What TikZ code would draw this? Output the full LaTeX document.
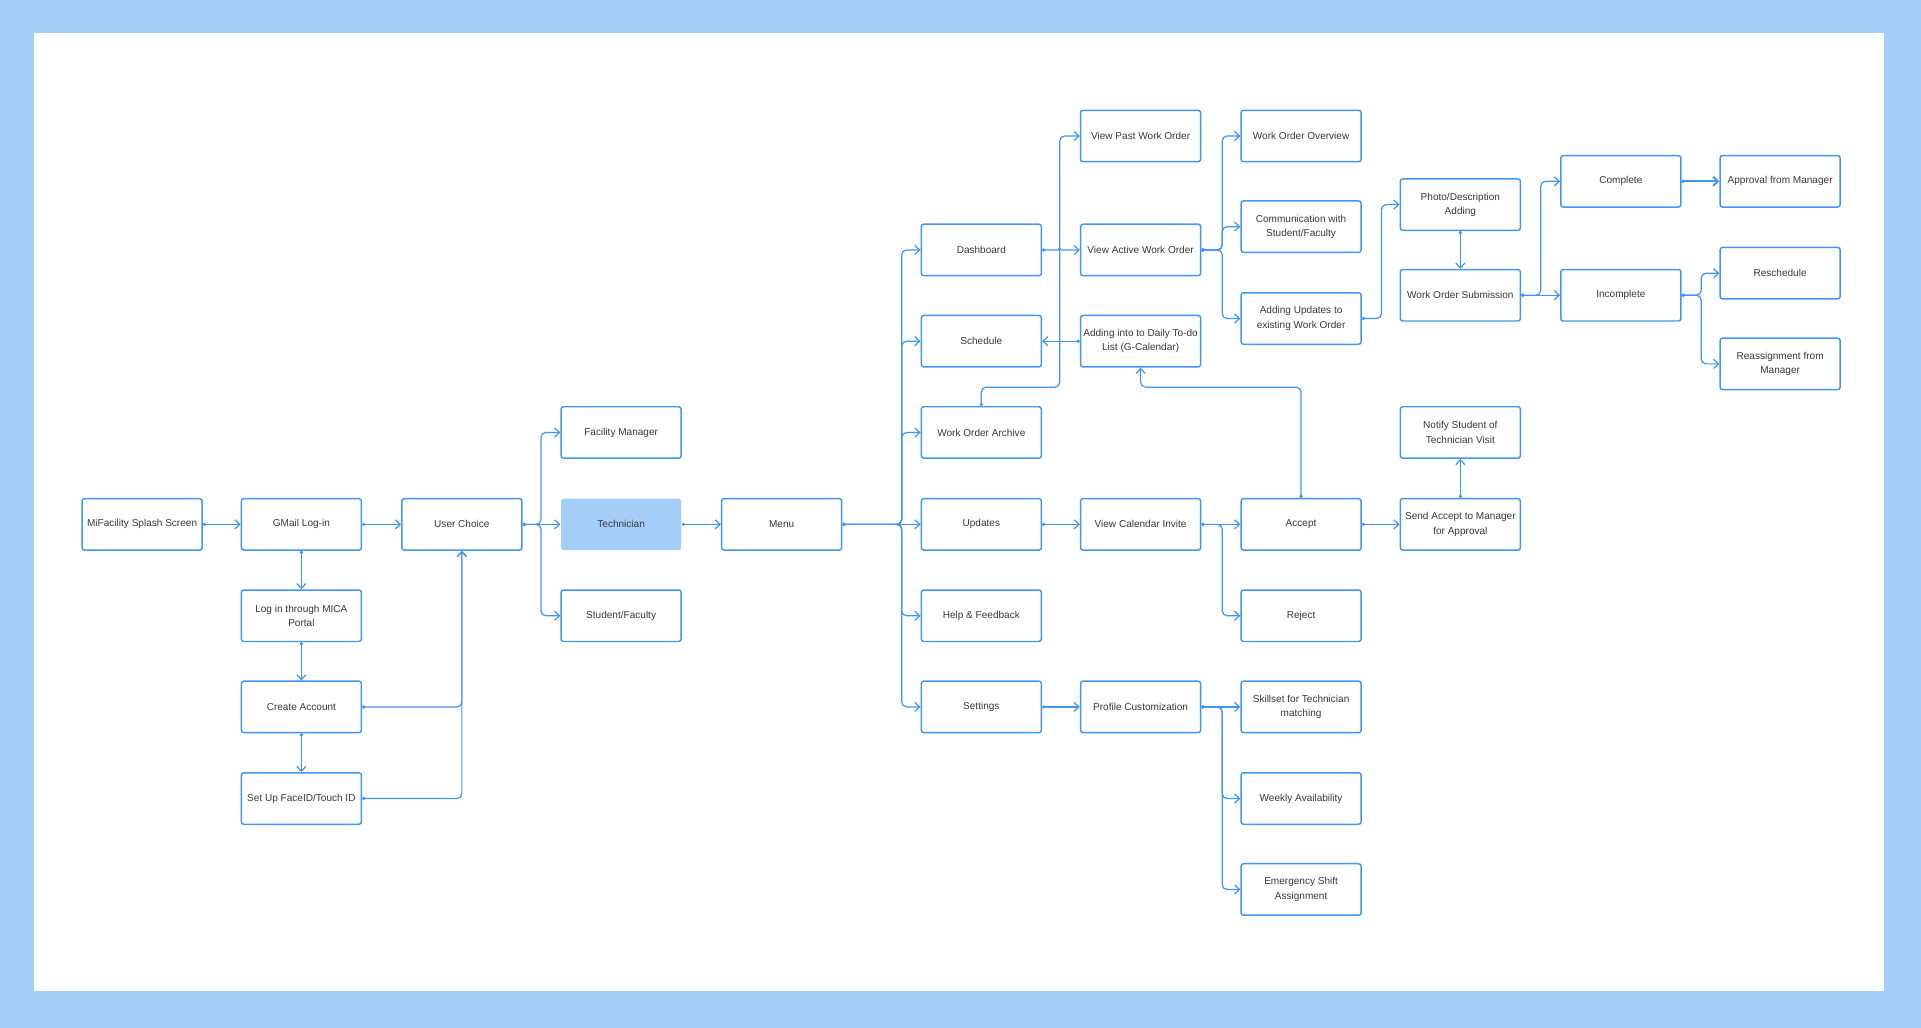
\documentclass[tikz,border=0pt]{standalone}
\usepackage{fontspec}
\setmainfont{Liberation Sans}
\usetikzlibrary{arrows.meta}
\definecolor{bgblue}{RGB}{164,205,248}
\definecolor{lineblue}{RGB}{66,150,243}
\definecolor{txtgray}{RGB}{55,55,62}
\begin{document}
\begin{tikzpicture}[x=1pt,y=-1pt,
  box/.style={draw=lineblue, line width=1.2pt, rounded corners=2pt, minimum width=98pt, minimum height=42pt, inner sep=1pt, align=center, text=txtgray, font=\fontsize{8.2}{11.7}\selectfont},
  techbox/.style={box, draw=none, fill=bgblue},
  conn/.style={draw=lineblue, line width=1pt, rounded corners=4pt, {Circle[length=2.6pt]}-{Straight Barb[length=4pt,width=7.5pt]}},
  thickconn/.style={conn, line width=1.6pt}
]
\useasboundingbox (0,0) rectangle (1568,839);
\fill[bgblue] (0,0) rectangle (1568,839);
\fill[white] (27.8,26.9) rectangle (1538,809);

% column 1-2
\node[box] (splash) at (116,428) {MiFacility Splash Screen};
\node[box] (gmail) at (246,428) {GMail Log-in};
\node[box] (mica) at (246,502.6) {Log in through MICA\\Portal};
\node[box] (create) at (246,577) {Create Account};
\node[box] (faceid) at (246,651.8) {Set Up FaceID/Touch ID};
% column 3-5
\node[box] (uchoice) at (377,428) {User Choice};
\node[box] (fm) at (507,353) {Facility Manager};
\node[techbox] (tech) at (507,428) {Technician};
\node[box] (sf) at (507,502.6) {Student/Faculty};
\node[box] (menu) at (638,428) {Menu};
% column 6
\node[box] (dash) at (801,204) {Dashboard};
\node[box] (sched) at (801,278.5) {Schedule};
\node[box] (archive) at (801,353) {Work Order Archive};
\node[box] (updates) at (801,428) {Updates};
\node[box] (help) at (801,502.6) {Help \& Feedback};
\node[box] (settings) at (801,577) {Settings};
% column 7
\node[box] (vpast) at (931,111) {View Past Work Order};
\node[box] (vactive) at (931,204) {View Active Work Order};
\node[box] (todo) at (931,278.5) {Adding into to Daily To-do\\List (G-Calendar)};
\node[box] (vcal) at (931,428) {View Calendar Invite};
\node[box] (profile) at (931,577) {Profile Customization};
% column 8
\node[box] (overview) at (1062,111) {Work Order Overview};
\node[box] (comm) at (1062,185) {Communication with\\Student/Faculty};
\node[box] (addupd) at (1062,260) {Adding Updates to\\existing Work Order};
\node[box] (accept) at (1062,428) {Accept};
\node[box] (reject) at (1062,502.6) {Reject};
\node[box] (skill) at (1062,577) {Skillset for Technician\\matching};
\node[box] (weekly) at (1062,651.8) {Weekly Availability};
\node[box] (emerg) at (1062,726) {Emergency Shift\\Assignment};
% column 9
\node[box] (photo) at (1192,167) {Photo/Description\\Adding};
\node[box] (submit) at (1192,241) {Work Order Submission};
\node[box] (notify) at (1192,353) {Notify Student of\\Technician Visit};
\node[box] (sendacc) at (1192,428) {Send Accept to Manager\\for Approval};
% column 10-11
\node[box] (complete) at (1323,148) {Complete};
\node[box] (incomplete) at (1323,241) {Incomplete};
\node[box] (approval) at (1453,148) {Approval from Manager};
\node[box] (resched) at (1453,223) {Reschedule};
\node[box] (reassign) at (1453,297) {Reassignment from\\Manager};

% connectors
\draw[conn] (splash.east) -- (gmail.west);
\draw[conn] (gmail.east) -- (uchoice.west);
\draw[conn] (gmail.south) -- (mica.north);
\draw[conn] (mica.south) -- (create.north);
\draw[conn] (create.south) -- (faceid.north);
\draw[conn] (create.east) -| (uchoice.south);
\draw[conn] (faceid.east) -| (uchoice.south);

\draw[conn] (uchoice.east) -- ++(15,0) |- (fm.west);
\draw[conn] (uchoice.east) -- (tech.west);
\draw[conn] (uchoice.east) -- ++(15,0) |- (sf.west);
\draw[conn] (tech.east) -- (menu.west);

\coordinate (mbus) at (736,428);
\draw[conn] (menu.east) -- (mbus) |- (dash.west);
\draw[conn] (menu.east) -- (mbus) |- (sched.west);
\draw[conn] (menu.east) -- (mbus) |- (archive.west);
\draw[conn] (menu.east) -- (updates.west);
\draw[conn] (menu.east) -- (mbus) |- (help.west);
\draw[conn] (menu.east) -- (mbus) |- (settings.west);

\draw[conn, sharp corners] (dash.east) -- (863.5,204) arc[start angle=180,end angle=0,radius=1.5pt] -- (vactive.west);
\draw[conn] (archive.north) |- (865,316) |- (vpast.west);
\draw[conn] (todo.west) -- (sched.east);

\draw[conn] (vactive.east) -- ++(17,0) |- (overview.west);
\draw[conn] (vactive.east) -- ++(17,0) |- (comm.west);
\draw[conn] (vactive.east) -- ++(17,0) |- (addupd.west);
\draw[conn] (addupd.east) -- ++(16,0) |- (photo.west);
\draw[conn] (photo.south) -- (submit.north);
\draw[conn] (submit.east) -- ++(16,0) |- (complete.west);
\draw[conn] (submit.east) -- (incomplete.west);
\draw[thickconn] (complete.east) -- (approval.west);
\draw[conn] (incomplete.east) -- ++(16,0) |- (resched.west);
\draw[conn] (incomplete.east) -- ++(16,0) |- (reassign.west);

\draw[conn] (updates.east) -- (vcal.west);
\draw[conn] (vcal.east) -- (accept.west);
\draw[conn] (vcal.east) -- ++(17,0) |- (reject.west);
\draw[conn] (accept.north) |- (931,316) -- (todo.south);
\draw[conn] (accept.east) -- (sendacc.west);
\draw[conn] (sendacc.north) -- (notify.south);

\draw[conn] (settings.east) -- (profile.west);
\draw[conn] (profile.east) -- (skill.west);
\draw[conn] (profile.east) -- ++(17,0) |- (weekly.west);
\draw[conn] (profile.east) -- ++(17,0) |- (emerg.west);
\end{tikzpicture}
\end{document}
